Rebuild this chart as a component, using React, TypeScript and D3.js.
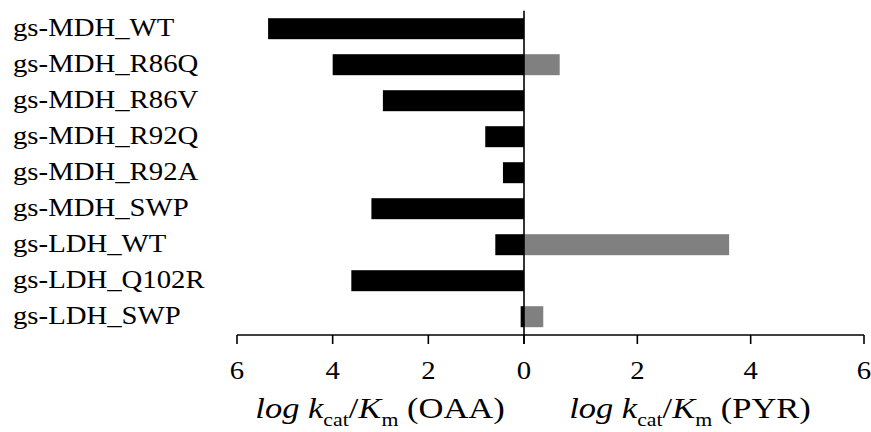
import React, { useEffect, useRef } from 'react';
import * as d3 from 'd3';

const categories = [
  'gs-MDH_WT', 'gs-MDH_R86Q', 'gs-MDH_R86V', 'gs-MDH_R92Q', 'gs-MDH_R92A',
  'gs-MDH_SWP', 'gs-LDH_WT', 'gs-LDH_Q102R', 'gs-LDH_SWP',
];
// log kcat/Km with OAA (drawn to the left) and PYR (drawn to the right)
const oaaValues = [5.35, 4.0, 2.95, 0.81, 0.44, 3.19, 0.6, 3.61, 0.07];
const pyrValues = [0, 0.63, 0, 0, 0, 0, 3.62, 0, 0.34];
const tickValues = [0, 2, 4, 6];

const W = 871;
const H = 432;
const FONT = '"Liberation Serif", "Times New Roman", serif';
const STRETCH = 1.15; // the source text is a bit wider than plain Times

export default function App() {
  const svgRef = useRef<SVGSVGElement>(null);

  useEffect(() => {
    const svg = d3.select(svgRef.current);
    svg.selectAll('*').remove();

    const zeroX = 524;
    const axisY = 335;
    // two half-axes with different pixel scales, as in the source figure
    const xLeft = d3.scaleLinear().domain([0, 6]).range([zeroX, 237]);
    const xRight = d3.scaleLinear().domain([0, 6]).range([zeroX, 864]);
    const y = d3.scaleBand<string>()
      .domain(categories)
      .range([10.7, 334.7])
      .paddingInner(0.417)
      .paddingOuter(0.2085);

    // OAA bars
    svg.append('g')
      .selectAll('rect')
      .data(categories)
      .join('rect')
        .attr('x', (d, i) => xLeft(oaaValues[i]))
        .attr('y', d => y(d)!)
        .attr('width', (d, i) => zeroX - xLeft(oaaValues[i]))
        .attr('height', y.bandwidth())
        .attr('fill', '#000');

    // PYR bars
    svg.append('g')
      .selectAll('rect')
      .data(categories.filter((d, i) => pyrValues[i] > 0))
      .join('rect')
        .attr('x', zeroX)
        .attr('y', d => y(d)!)
        .attr('width', d => xRight(pyrValues[categories.indexOf(d)]) - zeroX)
        .attr('height', y.bandwidth())
        .attr('fill', '#808080');

    // zero line
    svg.append('line')
      .attr('x1', zeroX).attr('x2', zeroX)
      .attr('y1', 10.7).attr('y2', axisY + 9)
      .attr('stroke', '#000').attr('stroke-width', 1.6);

    // bottom axis line + ticks
    svg.append('line')
      .attr('x1', xLeft(6)).attr('x2', xRight(6))
      .attr('y1', axisY).attr('y2', axisY)
      .attr('stroke', '#000').attr('stroke-width', 1.6);

    const ticks = [
      ...tickValues.slice(1).reverse().map(v => ({ v, x: xLeft(v) })),
      { v: 0, x: zeroX },
      ...tickValues.slice(1).map(v => ({ v, x: xRight(v) })),
    ];
    const tickG = svg.append('g');
    tickG.selectAll('line')
      .data(ticks)
      .join('line')
        .attr('x1', d => d.x).attr('x2', d => d.x)
        .attr('y1', axisY).attr('y2', axisY + 9)
        .attr('stroke', '#000').attr('stroke-width', 1.6);
    tickG.selectAll('text')
      .data(ticks)
      .join('text')
        .attr('transform', d => `translate(${d.x},379) scale(${STRETCH},1)`)
        .attr('text-anchor', 'middle')
        .attr('font-family', FONT)
        .attr('font-size', 25)
        .text(d => d.v);

    // category labels
    svg.append('g')
      .selectAll('text')
      .data(categories)
      .join('text')
        .attr('transform', d => `translate(13,${y(d)! + y.bandwidth() / 2 + 7.5}) scale(${STRETCH},1)`)
        .attr('font-family', FONT)
        .attr('font-size', 25)
        .text(d => d);

    // axis titles
    const addTitle = (cx: number, sub: string) => {
      const t = svg.append('text')
        .attr('transform', `translate(${cx},418) scale(${STRETCH},1)`)
        .attr('text-anchor', 'middle')
        .attr('font-family', FONT)
        .attr('font-size', 30);
      t.append('tspan').attr('font-style', 'italic').text('log k');
      t.append('tspan').attr('font-size', 19).attr('dy', 8).text('cat');
      t.append('tspan').attr('dy', -8).text('/');
      t.append('tspan').attr('font-style', 'italic').text('K');
      t.append('tspan').attr('font-size', 19).attr('dy', 8).text('m');
      t.append('tspan').attr('dy', -8).text(` (${sub})`);
    };
    addTitle(380, 'OAA');
    addTitle(690, 'PYR');
  }, []);

  return (
    <svg
      ref={svgRef}
      width={W}
      height={H}
      style={{ position: 'absolute', left: 0, top: 0, background: '#fff' }}
    />
  );
}
